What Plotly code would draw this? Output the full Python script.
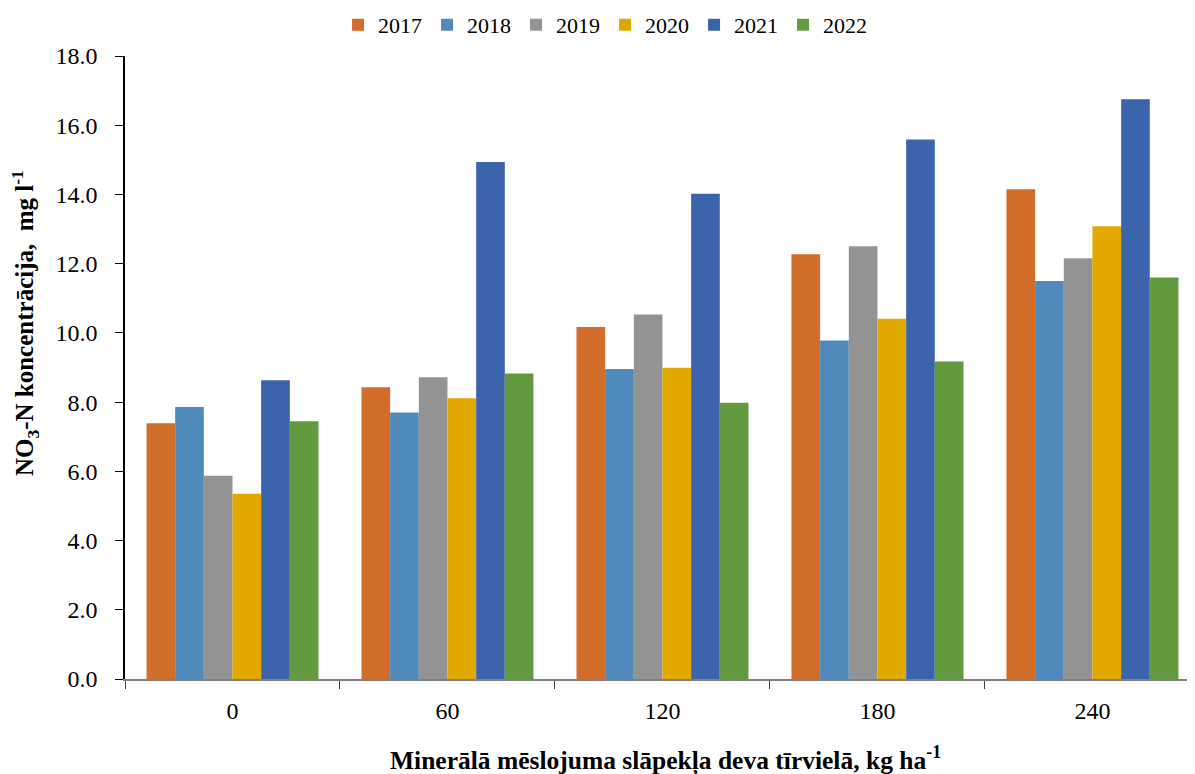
import plotly.graph_objects as go

categories = ["0", "60", "120", "180", "240"]
years = ["2017", "2018", "2019", "2020", "2021", "2022"]
values = {
    "2017": [7.39, 8.43, 10.17, 12.27, 14.15],
    "2018": [7.86, 7.70, 8.96, 9.78, 11.50],
    "2019": [5.87, 8.72, 10.53, 12.50, 12.16],
    "2020": [5.35, 8.11, 8.99, 10.41, 13.08],
    "2021": [8.63, 14.94, 14.02, 15.59, 16.75],
    "2022": [7.45, 8.83, 7.98, 9.17, 11.60],
}
colors = {
    "2017": "#D36D2B",
    "2018": "#508ABD",
    "2019": "#939393",
    "2020": "#E1A900",
    "2021": "#3C64AC",
    "2022": "#639A3F",
}
y_ticks = [0, 2, 4, 6, 8, 10, 12, 14, 16, 18]
x_title = "<b>Minerālā mēslojuma slāpekļa deva tīrvielā, kg ha<sup>-1</sup></b>"
y_title = "<b>NO<sub>3</sub>-N koncentrācija,  mg l<sup>-1</sup></b>"

FF = "Times New Roman, Liberation Serif, serif"

fig = go.Figure()
for yr in years:
    fig.add_trace(go.Bar(
        x=categories, y=values[yr], name=yr,
        marker=dict(color=colors[yr], line=dict(width=0)),
    ))

fig.update_layout(
    width=1187, height=766,
    barmode="group", bargap=0.2, bargroupgap=0,
    plot_bgcolor="white", paper_bgcolor="white",
    margin=dict(l=117, r=0, t=48, b=95, autoexpand=False),
    font=dict(family=FF, size=22, color="black"),
    legend=dict(
        orientation="h", xref="container", x=0.503, xanchor="center",
        yref="container", y=0.978, yanchor="middle",
        font=dict(family=FF, size=22), itemwidth=30, traceorder="normal",
    ),
    xaxis=dict(
        type="category", range=[-0.5, 4.477],
        showline=True, linecolor="#808080", linewidth=2,
        ticks="outside", tickson="boundaries", ticklen=8, tickcolor="#404040",
        ticklabelstandoff=9,
        showgrid=False, automargin=False,
        tickfont=dict(family=FF, size=24),
    ),
    yaxis=dict(
        range=[0, 18], tickvals=y_ticks, tickformat=".1f",
        showline=True, linecolor="black", linewidth=1.5,
        ticks="outside", ticklen=8, tickcolor="black",
        ticklabelstandoff=13, automargin=False,
        showgrid=False, zeroline=False,
        tickfont=dict(family=FF, size=24),
    ),
    annotations=[
        dict(text=x_title, xref="paper", yref="paper", x=0.505, y=-0.129,
             xanchor="center", yanchor="middle", showarrow=False,
             font=dict(family=FF, size=25.5)),
        dict(text=y_title, xref="paper", yref="paper", x=-0.094, y=0.572,
             xanchor="center", yanchor="middle", showarrow=False, textangle=-90,
             font=dict(family=FF, size=25)),
    ],
)

fig.write_html("out.html")
